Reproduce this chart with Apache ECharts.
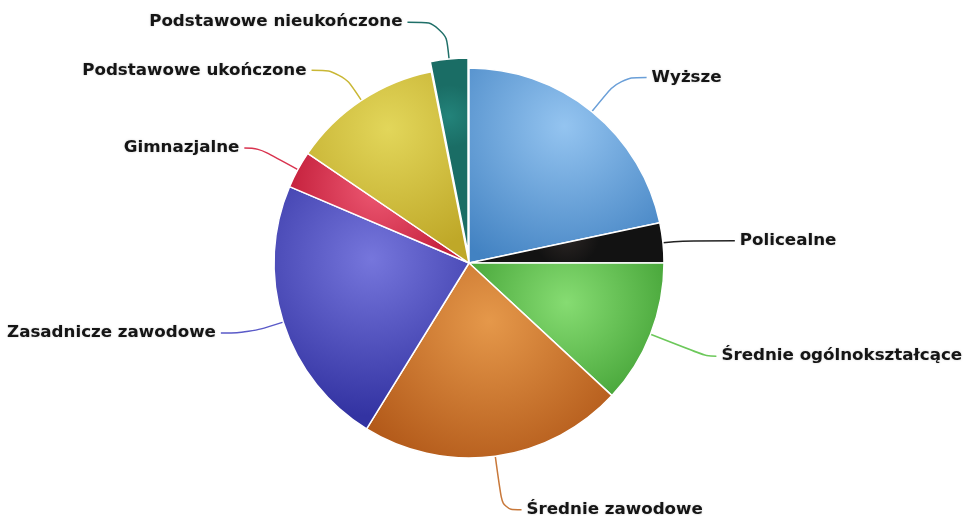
<!DOCTYPE html>
<html><head><meta charset="utf-8">
<script src="https://cdn.jsdelivr.net/npm/echarts@6/dist/echarts.min.js"></script>
<style>html,body{margin:0;padding:0;background:#fff}#c{width:963px;height:519px}</style>
</head><body><div id="c"></div>
<script>
const categories = ['Wyższe','Policealne','Średnie ogólnokształcące','Średnie zawodowe','Zasadnicze zawodowe','Gimnazjalne','Podstawowe ukończone','Podstawowe nieukończone'];
const values = [21.7, 3.3, 11.9, 21.9, 22.6, 3.1, 12.4, 3.1];
const lightColors = ['#94c4f0','#2c2624','#86dc72','#e5984a','#7676dc','#ee5a74','#e2d65a','#23837a'];
const darkColors  = ['#4282c2','#121212','#48a63a','#b35a1a','#3333a2','#c6223e','#bfa828','#1a6d65'];
const lineColors  = ['#6a9fd8','#222222','#6cc85a','#c8783a','#5a5ac8','#d9334f','#c9b735','#1f6f68'];
const lineLen1 = [44, 20, 60, 54, 36, 45, 36, 37];
const lineLen2 = [27, 52, 10, 19, 28, 14, 30, 38];
const slicedIndex = 7;

const chart = echarts.init(document.getElementById('c'), null, {renderer:'canvas'});
chart.setOption({
  animation:false,
  series:[{
    type:'pie',
    center:[469,263],
    radius:[0,195],
    startAngle:90,
    clockwise:true,
    selectedMode:'single',
    selectedOffset:10,
    avoidLabelOverlap:false,
    itemStyle:{borderColor:'#fff',borderWidth:1.5},
    label:{
      color:'#151515',fontFamily:'DejaVu Sans',fontWeight:'bold',fontSize:16.7,
      textShadowColor:'rgba(0,0,0,0.2)',textShadowBlur:2
    },
    labelLine:{smooth:0.4,lineStyle:{width:1.5}},
    data: categories.map((n,i)=>({
      name:n, value:values[i], selected:i===slicedIndex,
      itemStyle:{color:{type:'radial',x:0.5,y:0.3,r:0.8,colorStops:[{offset:0,color:lightColors[i]},{offset:1,color:darkColors[i]}]}},
      labelLine:{length:lineLen1[i],length2:lineLen2[i],lineStyle:{color:lineColors[i]}}
    }))
  }]
});
</script></body></html>
